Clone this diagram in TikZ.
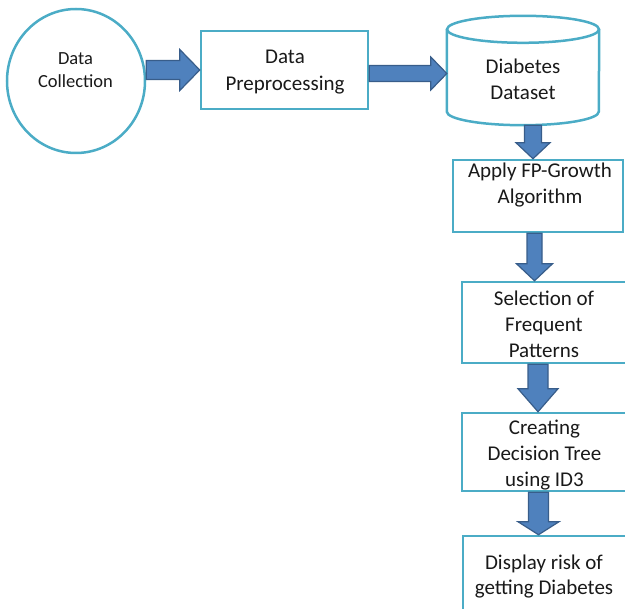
\documentclass[tikz,border=0pt]{standalone}
\usepackage{fontspec}
\setmainfont{Carlito}
\usetikzlibrary{calc,shapes.geometric}
\definecolor{boxline}{HTML}{4BACC6}
\definecolor{arrfill}{HTML}{4F81BD}
\definecolor{arrline}{HTML}{385D8A}

% horizontal block arrow: start, tip, shaft half-width, head half-width, head length
\newcommand\rightblock[5]{%
  \path[blockarrow] let \p1=(#1), \p2=(#2) in
    (\x1,\y2+#3) -- (\x2-#5,\y2+#3) -- (\x2-#5,\y2+#4) -- (\x2,\y2)
    -- (\x2-#5,\y2-#4) -- (\x2-#5,\y2-#3) -- (\x1,\y2-#3) -- cycle;}
% downward block arrow: start, tip, shaft half-width, head half-width, head length
\newcommand\downblock[5]{%
  \path[blockarrow] let \p1=(#1), \p2=(#2) in
    (\x2-#3,\y1) -- (\x2-#3,\y2+#5) -- (\x2-#4,\y2+#5) -- (\x2,\y2)
    -- (\x2+#4,\y2+#5) -- (\x2+#3,\y2+#5) -- (\x2+#3,\y1) -- cycle;}

\tikzset{
  outline/.style={draw=boxline, line width=2.5pt},
  stepbox/.style={outline, rectangle, inner sep=0pt},
  blockarrow/.style={fill=arrfill, draw=arrline, line width=1.2pt, line join=miter},
  label text/.style={align=center, inner sep=0pt, text=black!90,
    font=\fontsize{21}{26}\selectfont},
}

\begin{document}
\begin{tikzpicture}[x=1pt, y=-1pt]
\useasboundingbox (0,0) rectangle (625,609);
\clip (0,0) rectangle (625,609);

% source circle
\node[outline, ellipse, minimum width=138pt, minimum height=144pt, inner sep=0pt] (collect) at (76,81) {};
\node[label text, font=\fontsize{18.5}{23}\selectfont] (collecttext) at (75.5,70) {Data\\Collection};

% preprocessing
\node[stepbox, minimum width=167pt, minimum height=78pt] (pre) at (284.5,70) {};
\node[label text, font=\fontsize{21}{27}\selectfont] (pretext) at (285,72) {Data\\Preprocessing};

% dataset cylinder
\node[inner sep=0pt, minimum width=152pt, minimum height=109pt] (ds) at (523,70.5) {};
\draw[outline] let \p1=(ds.north west), \p2=(ds.south east) in
  (\x1,\y1-13.5pt) -- (\x1,\y2+13.5pt)
  arc[start angle=180, end angle=360, x radius=76pt, y radius=13.5pt]
  -- (\x2,\y1-13.5pt);
\draw[outline] let \p1=(ds.north) in (\x1,\y1-13.5pt) ellipse[x radius=76pt, y radius=13.5pt];
\node[label text] (dstext) at (523,79) {Diabetes\\Dataset};

% processing chain
\node[stepbox, minimum width=170pt, minimum height=72pt] (fp) at (538,196) {};
\node[label text] (fptext) at (540,185) {Apply FP-Growth\\Algorithm};

\node[stepbox, minimum width=164pt, minimum height=81pt] (sel) at (544,322.5) {};
\node[label text] (seltext) at (544,324) {Selection of\\Frequent\\Patterns};

\node[stepbox, minimum width=164pt, minimum height=78pt] (cre) at (544,452) {};
\node[label text] (cretext) at (544.5,455.5) {Creating\\Decision Tree\\using ID3};

\node[stepbox, minimum width=163pt, minimum height=84pt] (disp) at (544.5,578) {};
\node[label text, font=\fontsize{21}{25}\selectfont] (disptext) at (544,576.5) {Display risk of\\getting Diabetes};

% block arrows
\rightblock{collect.east}{pre.west}{9.5pt}{20.5pt}{20pt}
\rightblock{pre.east}{[yshift=-3pt]ds.west}{8pt}{16.5pt}{16pt}
\downblock{ds.south}{[xshift=-5pt]fp.north}{8.5pt}{17pt}{16pt}
\downblock{fp.south}{[xshift=-9.5pt]sel.north}{7.5pt}{18pt}{17pt}
\downblock{sel.south}{[xshift=-6pt]cre.north}{10pt}{20pt}{23pt}
\downblock{cre.south}{[xshift=-6pt]disp.north}{10pt}{20.5pt}{13pt}
\end{tikzpicture}
\end{document}
